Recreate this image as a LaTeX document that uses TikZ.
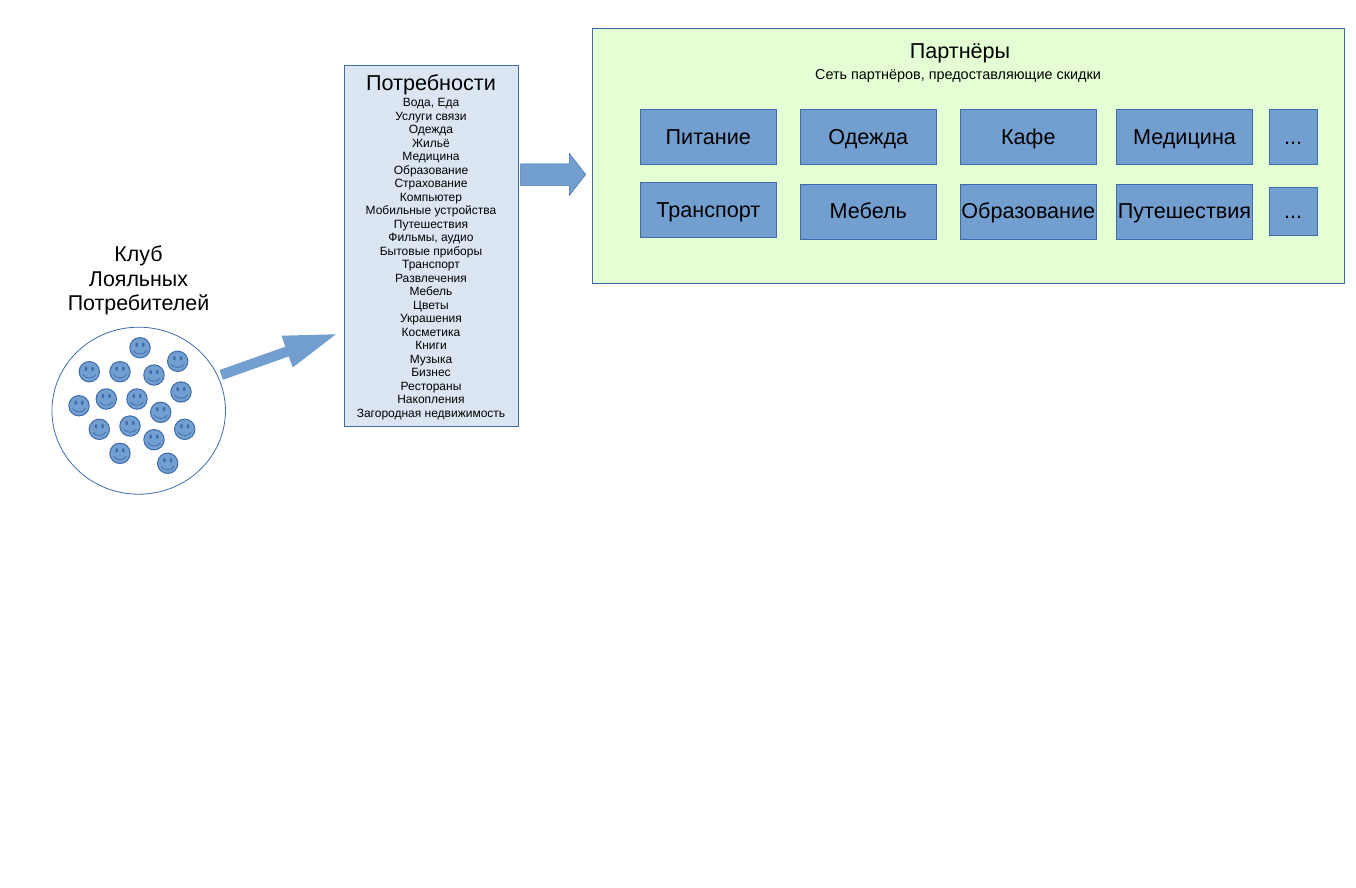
\documentclass[tikz,border=0pt]{standalone}
\usepackage{fontspec}
\setmainfont{Liberation Sans}
\usetikzlibrary{shapes.arrows,shapes.geometric}
\definecolor{myblue}{RGB}{114,159,207}
\definecolor{myline}{RGB}{62,108,170}
\definecolor{mylight}{RGB}{220,230,242}
\definecolor{mygreen}{RGB}{228,255,212}
\tikzset{
  every node/.style={line width=0.8pt},
  tile/.style={rectangle,draw=myline,fill=myblue,inner sep=0pt,minimum height=55,text height=15,text depth=1,font=\fontsize{21.6}{21.6}\selectfont},
  blockarrow/.style={single arrow,draw=myline,fill=myblue,inner xsep=0pt,anchor=tip,line width=0.5pt},
  smiley/.pic={
    \fill[myblue,draw=myline,line width=1pt] (0,0) circle (10.2);
    \fill[myline] (-3.3,-3) ellipse (1.3 and 2.2);
    \fill[myline] (3.3,-3) ellipse (1.3 and 2.2);
    \draw[myline,line width=0.7pt] (-6.5,3) .. controls (-3.5,7.3) and (3.5,7.3) .. (6.5,3);
  }
}
\begin{document}
\begin{tikzpicture}[x=1pt,y=-1pt]
            \useasboundingbox (0,0) rectangle (1356,887);
            % club
            \node[align=center,font=\fontsize{21.4}{24.3}\selectfont] (clubtitle) at (138.5,280.5) {Клуб\\Лояльных\\Потребителей};
            \node[ellipse,draw=myline,minimum width=173.5,minimum height=167,inner sep=0pt] (club) at (138.7,410.7) {};
            \pic at (140,347.7) {smiley};
            \pic at (177.7,361.3) {smiley};
            \pic at (89.3,371.7) {smiley};
            \pic at (120,371.7) {smiley};
            \pic at (154,375) {smiley};
            \pic at (181,392) {smiley};
            \pic at (79,405.7) {smiley};
            \pic at (106.3,399) {smiley};
            \pic at (137,399) {smiley};
            \pic at (160.7,412.3) {smiley};
            \pic at (99.3,429.3) {smiley};
            \pic at (130,426) {smiley};
            \pic at (184.7,429.3) {smiley};
            \pic at (154,439.7) {smiley};
            \pic at (120,453.3) {smiley};
            \pic at (167.7,463.3) {smiley};
            % needs
            \node[rectangle,draw=myline,fill=mylight,minimum width=173.5,minimum height=360.5,inner sep=0pt] (needs) at (431.2,246) {};
            \node[font=\fontsize{21.6}{21.6}\selectfont] (needstitle) at (431,85) {Потребности};
            \node[align=center,anchor=north,font=\fontsize{12}{13.52}\selectfont] (needslist) at (431,94.5) {Вода, Еда\\Услуги связи\\Одежда\\Жильё\\Медицина\\Образование\\Страхование\\Компьютер\\Мобильные устройства\\Путешествия\\Фильмы, аудио\\Бытовые приборы\\Транспорт\\Развлечения\\Мебель\\Цветы\\Украшения\\Косметика\\Книги\\Музыка\\Бизнес\\Рестораны\\Накопления\\Загородная недвижимость};
            % partners
            \node[rectangle,draw=myline,fill=mygreen,minimum width=752,minimum height=255,inner sep=0pt] (partners) at (968.5,155.5) {};
            \node[font=\fontsize{21.6}{21.6}\selectfont] (partnerstitle) at (960,53.5) {Партнёры};
            \node[font=\fontsize{14.4}{14.4}\selectfont] (partnerssub) at (958,76) {Сеть партнёров, предоставляющие скидки};
            \node[tile,minimum width=136.5] (food) at (708.3,137) {Питание};
            \node[tile,minimum width=136.5] (clothes) at (868.3,137) {Одежда};
            \node[tile,minimum width=136.5] (cafe) at (1028.3,137) {Кафе};
            \node[tile,minimum width=136.5] (medicine) at (1184.5,137) {Медицина};
            \node[tile,minimum width=48] (more1) at (1293,137) {...};
            \node[tile,minimum width=136.5] (transport) at (708.3,210) {Транспорт};
            \node[tile,minimum width=136.5] (furniture) at (868.3,211.5) {Мебель};
            \node[tile,minimum width=136.5] (education) at (1028.3,211.5) {Образование};
            \node[tile,minimum width=136.5] (travel) at (1184.5,211.5) {Путешествия};
            \node[tile,minimum width=48,minimum height=48] (more2) at (1293,211.5) {...};
            % arrows
            \node[blockarrow,inner ysep=10.5,minimum height=65,single arrow head extend=10,single arrow tip angle=104] (arrowneeds) at (586,174.5) {};
            \node[blockarrow,draw=none,inner ysep=4.9,rotate=19.5,minimum height=121.7,single arrow head extend=11.7,single arrow tip angle=36] (arrowclub) at (336.7,334) {};
        \end{tikzpicture}
\end{document}
